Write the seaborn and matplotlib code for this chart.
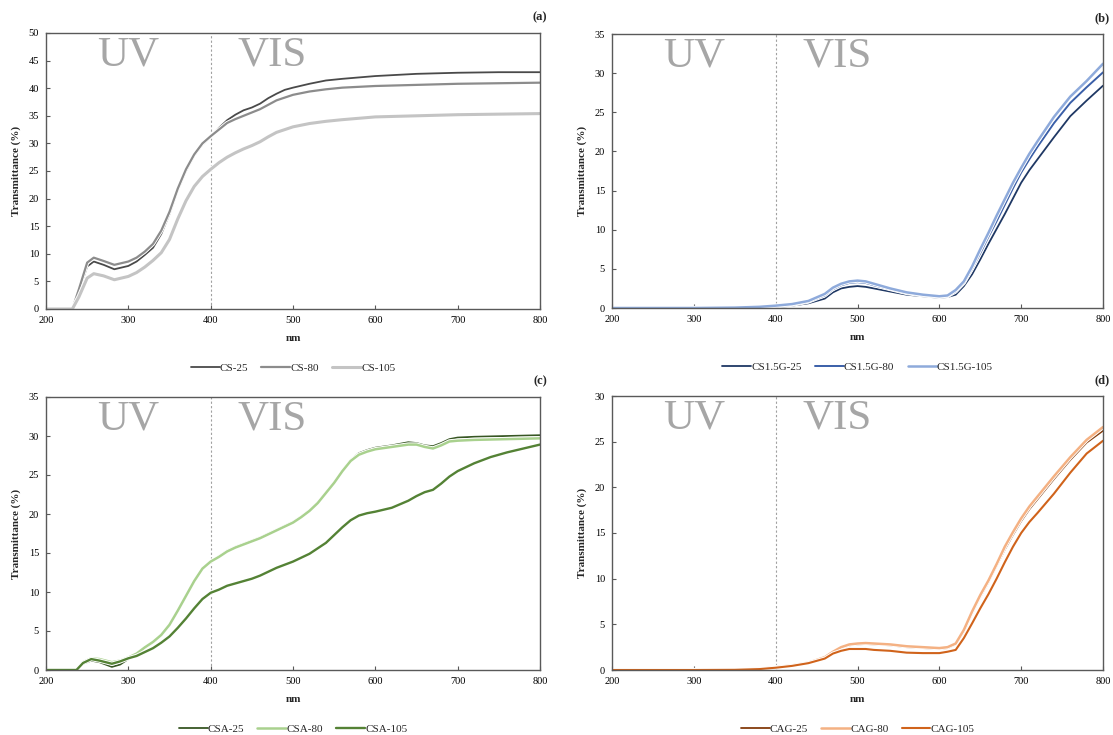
import numpy as np
import pandas as pd
import matplotlib
matplotlib.use("Agg")
import matplotlib.pyplot as plt
import matplotlib.patheffects as pe
from matplotlib.lines import Line2D
import seaborn as sns

# ---------------- data ----------------
# Panel (a)
wl_a = [200, 225, 232, 240, 250, 258, 270, 283, 300, 310,
        320, 330, 340, 350, 360, 370, 380, 390, 400, 410,
        420, 430, 440, 450, 460, 470, 480, 490, 500, 520,
        540, 560, 600, 650, 700, 750, 800]
cs_25 = [0, 0, 0, 3.2, 7.7, 8.6, 8.0, 7.2, 7.8, 8.6,
         9.8, 11.1, 13.6, 17.2, 21.5, 25.0, 27.8, 29.8, 31.2, 32.8,
         34.2, 35.2, 36.0, 36.5, 37.2, 38.2, 39.0, 39.7, 40.1, 40.8,
         41.4, 41.7, 42.2, 42.6, 42.8, 42.9, 42.9]
cs_80 = [0, 0, 0, 3.6, 8.4, 9.3, 8.7, 8.0, 8.6, 9.3,
         10.4, 11.8, 14.2, 17.6, 21.8, 25.3, 28.0, 30.0, 31.3, 32.5,
         33.7, 34.4, 35.0, 35.6, 36.2, 37.0, 37.8, 38.3, 38.8, 39.4,
         39.8, 40.1, 40.4, 40.6, 40.8, 40.9, 41.0]
cs_105 = [0, 0, 0, 2.2, 5.6, 6.4, 6.0, 5.3, 5.9, 6.6,
          7.6, 8.8, 10.2, 12.6, 16.3, 19.6, 22.2, 24.0, 25.3, 26.5,
          27.5, 28.3, 29.0, 29.6, 30.3, 31.2, 32.0, 32.5, 33.0, 33.6,
          34.0, 34.3, 34.8, 35.0, 35.2, 35.3, 35.4]

# Panels (b) and (d)
wl_bd = [200, 300, 350, 380, 400, 420, 440, 460, 470, 480,
         490, 500, 510, 520, 540, 560, 580, 600, 610, 620,
         630, 640, 650, 660, 670, 680, 690, 700, 710, 720,
         740, 760, 780, 800]
csg_25 = [0, 0, 0, 0.05, 0.1, 0.3, 0.6, 1.2, 2.0, 2.5,
          2.7, 2.8, 2.7, 2.5, 2.1, 1.7, 1.5, 1.3, 1.4, 1.7,
          2.8, 4.3, 6.2, 8.2, 10.1, 12.0, 14.0, 16.0, 17.6, 19.0,
          21.8, 24.5, 26.5, 28.4]
csg_80 = [0, 0, 0, 0.1, 0.2, 0.4, 0.8, 1.6, 2.4, 2.9,
          3.2, 3.3, 3.2, 2.9, 2.4, 1.9, 1.6, 1.4, 1.5, 2.1,
          3.2, 5.0, 7.0, 9.1, 11.1, 13.2, 15.3, 17.3, 19.0, 20.6,
          23.6, 26.2, 28.2, 30.1]
csg_105 = [0, 0, 0.05, 0.15, 0.3, 0.5, 0.9, 1.8, 2.6, 3.1,
           3.4, 3.5, 3.4, 3.1, 2.5, 2.0, 1.7, 1.5, 1.6, 2.3,
           3.4, 5.3, 7.5, 9.6, 11.8, 13.9, 16.0, 17.9, 19.7, 21.3,
           24.4, 27.0, 29.0, 31.2]

cag_25 = [0, 0, 0.02, 0.1, 0.25, 0.45, 0.75, 1.3, 1.9, 2.4,
          2.7, 2.8, 2.85, 2.8, 2.7, 2.5, 2.4, 2.3, 2.4, 2.8,
          4.2, 6.2, 8.0, 9.6, 11.4, 13.2, 14.8, 16.3, 17.6, 18.7,
          20.9, 23.0, 24.9, 26.2]
cag_80 = [0, 0, 0.02, 0.12, 0.3, 0.5, 0.8, 1.4, 2.0, 2.5,
          2.8, 2.9, 2.95, 2.9, 2.8, 2.6, 2.5, 2.4, 2.5, 2.9,
          4.4, 6.4, 8.2, 9.8, 11.6, 13.5, 15.1, 16.6, 17.9, 19.0,
          21.2, 23.3, 25.2, 26.6]
cag_105 = [0, 0, 0.02, 0.1, 0.25, 0.45, 0.75, 1.25, 1.8, 2.1,
           2.3, 2.3, 2.3, 2.2, 2.1, 1.9, 1.85, 1.85, 2.0, 2.2,
           3.5, 5.1, 6.75, 8.3, 10.0, 11.8, 13.5, 15.0, 16.2, 17.2,
           19.3, 21.6, 23.7, 25.1]

# Panel (c)
wl_c = [200, 237, 245, 255, 265, 280, 290, 300, 310, 320,
        330, 340, 350, 360, 370, 380, 390, 400, 410, 420,
        430, 440, 450, 460, 470, 480, 490, 500, 510, 520,
        530, 540, 550, 560, 570, 580, 590, 600, 620, 640,
        650, 660, 670, 680, 690, 700, 720, 740, 760, 780,
        800]
csa_25 = [0, 0, 0.8, 1.2, 1.0, 0.4, 0.7, 1.4, 2.0, 2.8,
          3.5, 4.4, 5.7, 7.5, 9.4, 11.4, 13.0, 13.9, 14.6, 15.3,
          15.8, 16.2, 16.6, 17.0, 17.5, 18.0, 18.5, 19.0, 19.7, 20.5,
          21.5, 22.8, 24.1, 25.6, 26.9, 27.8, 28.2, 28.5, 28.8, 29.2,
          29.1, 28.8, 28.7, 29.1, 29.6, 29.8, 29.9, 29.95, 30.0, 30.05,
          30.1]
csa_80 = [0, 0, 1.0, 1.5, 1.4, 1.0, 1.2, 1.6, 2.1, 2.9,
          3.6, 4.5, 5.8, 7.6, 9.5, 11.4, 13.0, 13.9, 14.5, 15.2,
          15.7, 16.1, 16.5, 16.9, 17.4, 17.9, 18.4, 18.9, 19.6, 20.4,
          21.4, 22.7, 24.0, 25.5, 26.8, 27.6, 28.0, 28.3, 28.6, 28.9,
          28.9, 28.6, 28.4, 28.8, 29.3, 29.4, 29.5, 29.55, 29.6, 29.65,
          29.7]
csa_105 = [0, 0, 0.9, 1.4, 1.2, 0.8, 1.1, 1.5, 1.8, 2.3,
           2.8, 3.5, 4.3, 5.4, 6.6, 7.9, 9.1, 9.9, 10.3, 10.8,
           11.1, 11.4, 11.7, 12.1, 12.6, 13.1, 13.5, 13.9, 14.4, 14.9,
           15.6, 16.3, 17.3, 18.3, 19.2, 19.8, 20.1, 20.3, 20.8, 21.7,
           22.3, 22.8, 23.1, 23.9, 24.8, 25.5, 26.5, 27.3, 27.9, 28.4,
           28.9]

x_ticks = [200, 300, 400, 500, 600, 700, 800]

panels = [
    dict(tag="(a)", wl=wl_a, names=["CS-25", "CS-80", "CS-105"],
         series=[cs_25, cs_80, cs_105],
         colors=["#4a4a4a", "#8c8c8c", "#c4c4c4"], lws=[1.3, 1.6, 2.2],
         ymax=50),
    dict(tag="(b)", wl=wl_bd, names=["CS1.5G-25", "CS1.5G-80", "CS1.5G-105"],
         series=[csg_25, csg_80, csg_105],
         colors=["#1f3864", "#3a5fa8", "#8eaadb"], lws=[1.3, 1.4, 1.8],
         ymax=35),
    dict(tag="(c)", wl=wl_c, names=["CSA-25", "CSA-80", "CSA-105"],
         series=[csa_25, csa_80, csa_105],
         colors=["#375623", "#a9d18e", "#548235"], lws=[1.3, 1.8, 1.7],
         ymax=35),
    dict(tag="(d)", wl=wl_bd, names=["CAG-25", "CAG-80", "CAG-105"],
         series=[cag_25, cag_80, cag_105],
         colors=["#843c0c", "#f4b183", "#d0631b"], lws=[1.3, 1.8, 1.5],
         ymax=30),
]

# ---------------- style ----------------
sns.set_theme(style="white")
plt.rcParams["font.family"] = ["Liberation Serif", "DejaVu Serif"]
plt.rcParams["axes.edgecolor"] = "#595959"
plt.rcParams["axes.linewidth"] = 1.0

fig = plt.figure(figsize=(11.13, 7.35), dpi=100)
W, H = 1113, 735
boxes = [(46, 540, 33, 309), (612, 1103, 34, 308),
         (46, 540, 397, 670), (612, 1103, 396, 670)]

for p, (l, r, t, b) in zip(panels, boxes):
    ax = fig.add_axes([l / W, 1 - b / H, (r - l) / W, (b - t) / H])
    frames = []
    for name, vals in zip(p["names"], p["series"]):
        frames.append(pd.DataFrame({"nm": p["wl"], "T": vals, "sample": name}))
    df = pd.concat(frames, ignore_index=True)
    sns.lineplot(data=df, x="nm", y="T", hue="sample",
                 palette=dict(zip(p["names"], p["colors"])),
                 hue_order=p["names"], ax=ax, legend=False,
                 estimator=None, sort=False)
    for line, lw in zip(ax.get_lines(), p["lws"]):
        line.set_linewidth(lw)
        line.set_solid_joinstyle("round")
        line.set_path_effects([pe.Stroke(linewidth=lw + 1.4, foreground="white"),
                               pe.Normal()])
    ax.axvline(400, color="#a0a0a0", lw=0.8, ls=(0, (2, 2)), zorder=0)
    ax.set_xlim(200, 800)
    ax.set_ylim(0, p["ymax"])
    ax.set_xticks(x_ticks)
    ax.set_yticks(np.arange(0, p["ymax"] + 1, 5))
    ax.tick_params(axis="both", direction="in", length=3, width=0.8,
                   colors="#595959", labelcolor="black", labelsize=7.5, pad=5)
    ax.tick_params(axis="both", which="both", top=False, right=False,
                   bottom=True, left=True)
    ax.set_xlabel("nm", fontsize=8, fontweight="bold")
    ax.set_ylabel("Transmittance (%)", fontsize=8, fontweight="bold")
    hpx = b - t
    ax.xaxis.set_label_coords(0.5, -25 / hpx)
    ax.yaxis.set_label_coords(-25 / (r - l), 0.5)

    ax.text(300, 0.92, "UV", transform=ax.get_xaxis_transform(),
            ha="center", va="center", fontsize=31, color="#a6a6a6")
    ax.text(475, 0.92, "VIS", transform=ax.get_xaxis_transform(),
            ha="center", va="center", fontsize=31, color="#a6a6a6")
    ax.text(1 + 7 / (r - l), 1 + 16 / hpx, p["tag"], transform=ax.transAxes,
            ha="right", va="center", fontsize=9, fontweight="bold")

    handles = [Line2D([], [], color=c, lw=lw) for c, lw in zip(p["colors"], p["lws"])]
    ax.legend(handles, p["names"], loc="center", bbox_to_anchor=(0.5, -59 / hpx),
              ncol=3, frameon=False, fontsize=8, handlelength=2.6,
              handletextpad=0.0, columnspacing=1.2)

fig.savefig("out.png", dpi=100, facecolor="white")
